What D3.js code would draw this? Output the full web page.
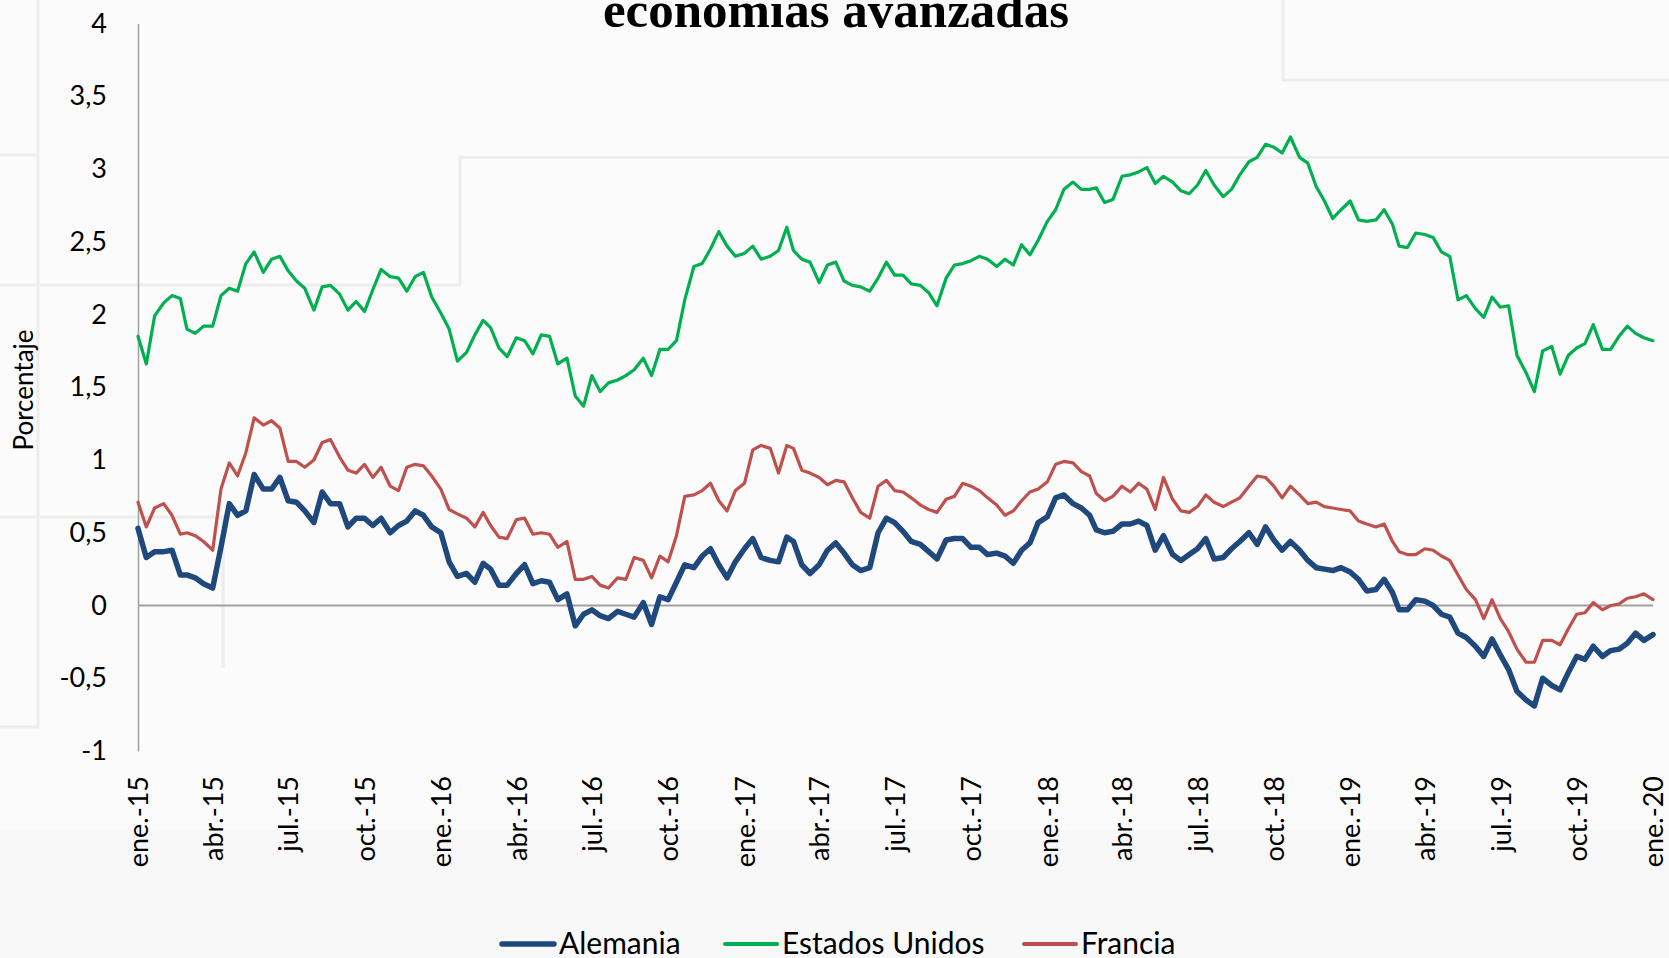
<!DOCTYPE html>
<html>
<head>
<meta charset="utf-8">
<script src="https://cdn.jsdelivr.net/npm/d3@7"></script>
<style>
  html, body { margin: 0; padding: 0; background: #fbfbfb; }
  svg { display: block; }
  .tick text { font-family: Lato, "Noto Sans", sans-serif; fill: #000; }
</style>
</head>
<body>
<script>
// series, one value every ~10 days (1st, 11th, 21st of each month), ene.-15 .. ene.-20
const seriesNames = ["Alemania", "Estados Unidos", "Francia"];

const alemania = [
    0.53, 0.33, 0.37, 0.37, 0.38, 0.21, 0.21, 0.19, 0.15, 0.12, 0.40, 0.70, 0.62, 0.65, 0.90, 0.80,
    0.80, 0.88, 0.72, 0.71, 0.65, 0.57, 0.78, 0.70, 0.70, 0.54, 0.60, 0.60, 0.55, 0.60, 0.50, 0.55,
    0.58, 0.65, 0.62, 0.54, 0.50, 0.30, 0.20, 0.22, 0.16, 0.29, 0.25, 0.14, 0.14, 0.22,
    0.28, 0.15, 0.17, 0.16, 0.04, 0.08, -0.14, -0.06, -0.03, -0.07, -0.09, -0.04, -0.06, -0.08, 0.02,
    -0.13, 0.06, 0.04, 0.16, 0.28, 0.26, 0.34, 0.39, 0.28, 0.19, 0.30, 0.39, 0.46, 0.33, 0.31, 0.30,
    0.47, 0.44, 0.28, 0.22, 0.28, 0.38, 0.43, 0.36, 0.28, 0.24, 0.26, 0.50, 0.60, 0.57,
    0.51, 0.44, 0.42, 0.37, 0.32, 0.45, 0.46, 0.46, 0.40, 0.40, 0.35, 0.36, 0.34, 0.29, 0.38, 0.43,
    0.57, 0.61, 0.74, 0.76, 0.70, 0.67, 0.62, 0.52, 0.50, 0.51, 0.56, 0.56, 0.58, 0.55, 0.38, 0.48,
    0.35, 0.31, 0.35, 0.39, 0.46, 0.32, 0.33, 0.39, 0.44, 0.50, 0.42, 0.54, 0.45,
    0.38, 0.44, 0.38, 0.31, 0.26, 0.25, 0.24, 0.26, 0.23, 0.18, 0.10, 0.11, 0.18, 0.09, -0.03, -0.03,
    0.04, 0.03, 0.00, -0.06, -0.08, -0.19, -0.22, -0.28, -0.35, -0.23, -0.34, -0.44, -0.59, -0.65,
    -0.69, -0.50, -0.55, -0.58, -0.46, -0.35, -0.37, -0.28, -0.35, -0.31, -0.30, -0.26, -0.19, -0.24, -0.20
];

const estadosUnidos = [
    1.85, 1.66, 1.99, 2.08, 2.13, 2.11, 1.90, 1.87, 1.92, 1.92, 2.13, 2.18, 2.16, 2.35, 2.43, 2.29,
    2.38, 2.40, 2.30, 2.23, 2.18, 2.03, 2.19, 2.20, 2.14, 2.03, 2.09, 2.02, 2.17, 2.31, 2.26, 2.25,
    2.16, 2.26, 2.29, 2.12, 2.01, 1.90, 1.68, 1.74, 1.86, 1.96, 1.91, 1.77, 1.71, 1.84,
    1.82, 1.73, 1.86, 1.85, 1.66, 1.70, 1.44, 1.37, 1.58, 1.47, 1.53, 1.55, 1.58, 1.62, 1.70, 1.58,
    1.76, 1.76, 1.82, 2.10, 2.33, 2.35, 2.45, 2.57, 2.47, 2.40, 2.42, 2.47, 2.38, 2.40, 2.44, 2.60,
    2.44, 2.38, 2.36, 2.22, 2.34, 2.36, 2.23, 2.20, 2.19, 2.16, 2.25, 2.36, 2.27,
    2.27, 2.21, 2.20, 2.15, 2.06, 2.25, 2.34, 2.35, 2.37, 2.40, 2.38, 2.33, 2.38, 2.34, 2.48, 2.41,
    2.51, 2.64, 2.72, 2.86, 2.91, 2.86, 2.86, 2.87, 2.77, 2.79, 2.95, 2.96, 2.98, 3.01, 2.90, 2.95,
    2.91, 2.85, 2.83, 2.89, 2.99, 2.89, 2.81, 2.86, 2.96, 3.05, 3.08, 3.17, 3.15,
    3.11, 3.22, 3.08, 3.04, 2.88, 2.78, 2.66, 2.72, 2.78, 2.65, 2.64, 2.65, 2.72, 2.62, 2.47, 2.46,
    2.56, 2.55, 2.53, 2.43, 2.40, 2.10, 2.13, 2.04, 1.98, 2.12, 2.05, 2.06, 1.72, 1.60, 1.47, 1.75,
    1.78, 1.59, 1.72, 1.77, 1.80, 1.93, 1.76, 1.76, 1.85, 1.92, 1.87, 1.84, 1.82
];

const francia = [
    0.71, 0.54, 0.67, 0.70, 0.62, 0.49, 0.50, 0.48, 0.44, 0.38, 0.80, 0.98, 0.89, 1.05, 1.29, 1.24,
    1.27, 1.22, 0.99, 0.99, 0.95, 1.00, 1.12, 1.14, 1.02, 0.93, 0.91, 0.97, 0.88, 0.95, 0.82, 0.79,
    0.95, 0.97, 0.96, 0.89, 0.80, 0.66, 0.63, 0.60, 0.54, 0.64, 0.55, 0.47, 0.46, 0.59,
    0.60, 0.49, 0.50, 0.49, 0.40, 0.44, 0.18, 0.18, 0.20, 0.14, 0.12, 0.19, 0.18, 0.33, 0.31, 0.19,
    0.34, 0.30, 0.48, 0.75, 0.76, 0.79, 0.84, 0.72, 0.65, 0.79, 0.84, 1.07, 1.10, 1.08, 0.91, 1.10,
    1.08, 0.93, 0.91, 0.88, 0.83, 0.86, 0.85, 0.74, 0.64, 0.60, 0.82, 0.86, 0.79,
    0.78, 0.74, 0.69, 0.66, 0.64, 0.73, 0.75, 0.84, 0.82, 0.79, 0.74, 0.69, 0.62, 0.65, 0.72, 0.78,
    0.80, 0.85, 0.97, 0.99, 0.98, 0.92, 0.89, 0.77, 0.72, 0.75, 0.82, 0.78, 0.84, 0.80, 0.66, 0.88,
    0.73, 0.65, 0.64, 0.68, 0.76, 0.71, 0.68, 0.71, 0.74, 0.82, 0.89, 0.88, 0.82,
    0.74, 0.82, 0.76, 0.70, 0.71, 0.68, 0.67, 0.66, 0.65, 0.58, 0.56, 0.54, 0.56, 0.44, 0.37, 0.35,
    0.35, 0.39, 0.38, 0.34, 0.31, 0.21, 0.11, 0.04, -0.09, 0.04, -0.09, -0.18, -0.30, -0.39, -0.39,
    -0.24, -0.24, -0.27, -0.16, -0.06, -0.05, 0.02, -0.03, 0.00, 0.01, 0.05, 0.06, 0.08, 0.04
];

const xTickLabels = [
    "ene.-15", "abr.-15", "jul.-15", "oct.-15",
    "ene.-16", "abr.-16", "jul.-16", "oct.-16",
    "ene.-17", "abr.-17", "jul.-17", "oct.-17",
    "ene.-18", "abr.-18", "jul.-18", "oct.-18",
    "ene.-19", "abr.-19", "jul.-19", "oct.-19",
    "ene.-20"
];
const yTicks = [-1, -0.5, 0, 0.5, 1, 1.5, 2, 2.5, 3, 3.5, 4];

const svgData = {
    width: 1669,
    height: 958,
    left: 138,
    right: 1653,
    top: 23.5,
    bottom: 751,
    colors: ["#1F497D", "#00B050", "#C0504D"],
    widths: [5.5, 3.2, 3.2]
};

// date for each observation: days 1, 11, 21 of every month
const dates = alemania.map((v, i) => new Date(2015, Math.floor(i / 3), 1 + (i % 3) * 10));
const tickDates = xTickLabels.map((s, i) => new Date(2015, i * 3, 1));

const svg = d3.select("body").append("svg")
    .attr("width", svgData.width)
    .attr("height", svgData.height);

// faint remains of the slide behind the chart
const ghost = svg.append("g")
    .attr("fill", "none")
    .attr("stroke", "#ededed")
    .attr("stroke-width", 3);
ghost.append("rect").attr("x", 0).attr("y", 830).attr("width", svgData.width).attr("height", 128)
    .attr("fill", "#f8f8f8").attr("stroke", "none");
ghost.append("path").attr("d", "M1283,0V80H1669");
ghost.append("path").attr("d", "M0,285H460V157.5H1669");
ghost.append("path").attr("d", "M38,0V727H0");
ghost.append("path").attr("d", "M0,155H38");
ghost.append("path").attr("d", "M0,517H223V668");

const x = d3.scaleTime()
    .domain([new Date(2015, 0, 1), new Date(2020, 0, 1)])
    .range([svgData.left, svgData.right]);

const y = d3.scaleLinear()
    .domain([-1, 4])
    .range([svgData.bottom, svgData.top]);

const locale = d3.formatLocale({ decimal: ",", thousands: ".", grouping: [3], currency: ["", "€"], minus: "-" });
const fmt = locale.format("~g");

// title (its first line falls outside the picture)
svg.append("text")
    .attr("x", 836)
    .attr("y", 27)
    .attr("text-anchor", "middle")
    .style("font-family", "'Liberation Serif', 'Times New Roman', serif")
    .style("font-weight", "bold")
    .style("font-size", "51px")
    .text("economías avanzadas");

// y axis
const yAxis = d3.axisLeft(y)
    .tickValues(yTicks)
    .tickSize(0)
    .tickPadding(31)
    .tickFormat(fmt);
const gy = svg.append("g")
    .attr("transform", "translate(" + svgData.left + ",0)")
    .call(yAxis);
gy.select(".domain").attr("stroke", "#a0a0a0").attr("stroke-width", 1.5);
gy.selectAll(".tick text").style("font-size", "27px");

svg.append("text")
    .attr("transform", "translate(33,390) rotate(-90)")
    .attr("text-anchor", "middle")
    .style("font-family", "Lato, 'Noto Sans', sans-serif")
    .style("font-size", "26px")
    .text("Porcentaje");

// x axis: labels at the bottom, axis line at zero
const xAxis = d3.axisBottom(x)
    .tickValues(tickDates)
    .tickSize(0)
    .tickFormat((d, i) => xTickLabels[i]);
const gx = svg.append("g")
    .attr("transform", "translate(0," + svgData.bottom + ")")
    .call(xAxis);
gx.select(".domain").remove();
gx.selectAll(".tick text")
    .style("font-size", "27px")
    .attr("transform", "rotate(-90)")
    .attr("text-anchor", "end")
    .attr("x", -25)
    .attr("y", 0)
    .attr("dy", "0.36em");

svg.append("line")
    .attr("x1", x.range()[0])
    .attr("x2", x.range()[1])
    .attr("y1", y(0))
    .attr("y2", y(0))
    .attr("stroke", "#a0a0a0")
    .attr("stroke-width", 2);

// series
const line = d3.line()
    .x(d => x(d[0]))
    .y(d => y(d[1]));

[alemania, estadosUnidos, francia].forEach((values, s) => {
    svg.append("path")
        .datum(values.map((v, i) => [dates[i], v]))
        .attr("fill", "none")
        .attr("stroke", svgData.colors[s])
        .attr("stroke-width", svgData.widths[s])
        .attr("stroke-linejoin", "round")
        .attr("stroke-linecap", "round")
        .attr("d", line);
});

// legend
const legendX = [500, 723, 1022];
const legend = svg.append("g");
seriesNames.forEach((name, s) => {
    legend.append("line")
        .attr("x1", legendX[s] + 2)
        .attr("x2", legendX[s] + 54)
        .attr("y1", 944)
        .attr("y2", 944)
        .attr("stroke", svgData.colors[s])
        .attr("stroke-width", s === 0 ? 5.5 : 4)
        .attr("stroke-linecap", "round");
    legend.append("text")
        .attr("x", legendX[s] + 59)
        .attr("y", 954)
        .style("font-family", "Lato, 'Noto Sans', sans-serif")
        .style("font-size", "30px")
        .text(name);
});
</script>
</body>
</html>
